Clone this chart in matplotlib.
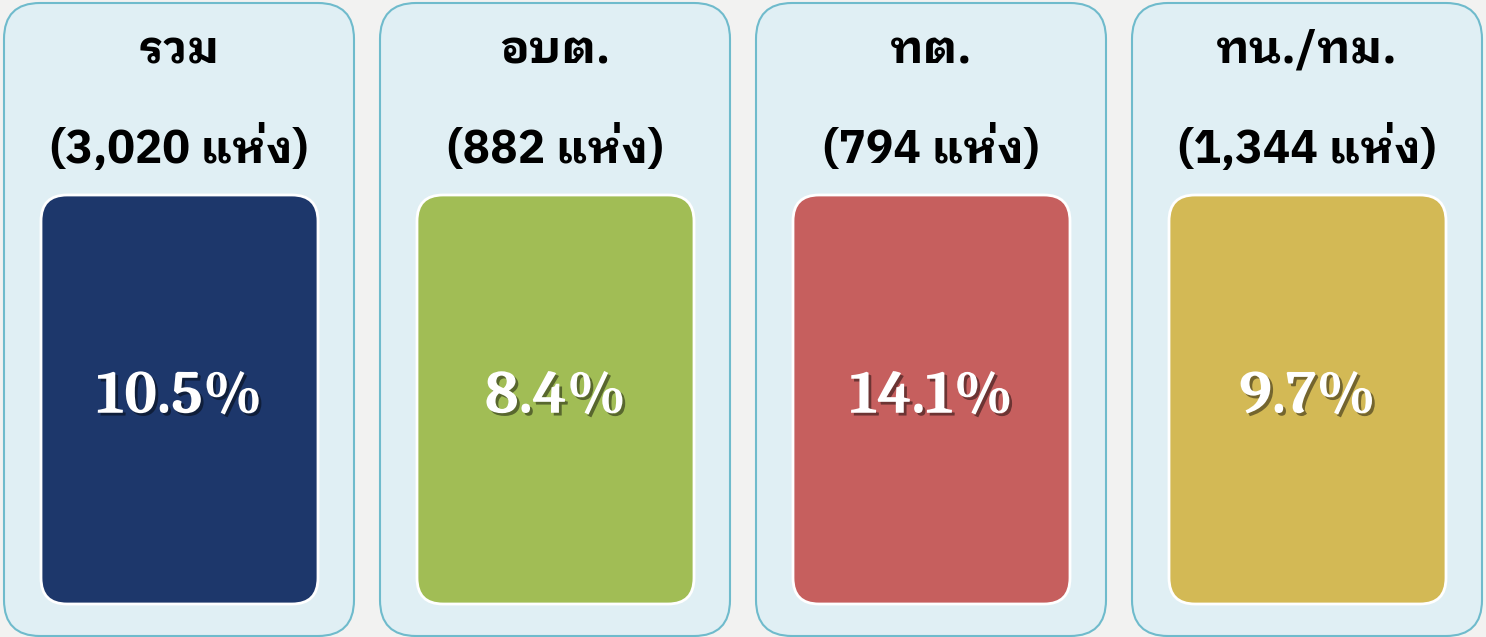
import matplotlib
matplotlib.use("Agg")
import matplotlib.pyplot as plt
from matplotlib.patches import FancyBboxPatch
import matplotlib.patheffects as pe

# ---- data ----
categories = ["รวม", "อบต.", "ทต.", "ทน./ทม."]
counts = [3020, 882, 794, 1344]
percents = [10.5, 8.4, 14.1, 9.7]
box_colors = ["#1d376b", "#a1bd55", "#c65f5e", "#d3b955"]
unit_word = "แห่ง"

W, H = 1486, 637
fig = plt.figure(figsize=(W / 100, H / 100), dpi=100, facecolor="#f2f2f1")
ax = fig.add_axes([0, 0, 1, 1])
ax.set_xlim(0, W)
ax.set_ylim(H, 0)
ax.axis("off")

thai = ["IBM Plex Sans Thai Looped", "Sarabun", "DejaVu Sans"]
num_font = ["Caladea", "Liberation Serif", "DejaVu Serif"]

outer_w, step, x0 = 350, 376, 4
outer_top, outer_bot = 3, 636
inner_dx, inner_w = 37, 277
inner_top, inner_bot = 195, 604

for i, (cat, n, p, c) in enumerate(zip(categories, counts, percents, box_colors)):
    left = x0 + i * step
    outer = FancyBboxPatch((left, outer_top), outer_w, outer_bot - outer_top,
                           boxstyle="round,pad=0,rounding_size=36",
                           facecolor="#e0eff4", edgecolor="#6fbbcc", linewidth=1.5)
    ax.add_patch(outer)
    inner = FancyBboxPatch((left + inner_dx, inner_top), inner_w, inner_bot - inner_top,
                           boxstyle="round,pad=0,rounding_size=26",
                           facecolor=c, edgecolor="white", linewidth=2)
    ax.add_patch(inner)
    cx = left + outer_w / 2
    ax.text(cx, 63, cat, ha="center", va="baseline", family=thai,
            fontweight="bold", fontsize=33, color="black")
    ax.text(cx, 163, f"({n:,} {unit_word})", ha="center", va="baseline", family=thai,
            fontweight="bold", fontsize=33, color="black")
    t = ax.text(left + inner_dx + inner_w / 2, 398, f"{p:.1f}%", ha="center", va="center",
                family=num_font, fontweight="bold", fontsize=44, color="white")
    t.set_path_effects([pe.SimplePatchShadow(offset=(2, -2), alpha=0.45, shadow_rgbFace="black"),
                        pe.Normal()])

fig.savefig("out.png", dpi=100, facecolor=fig.get_facecolor())
